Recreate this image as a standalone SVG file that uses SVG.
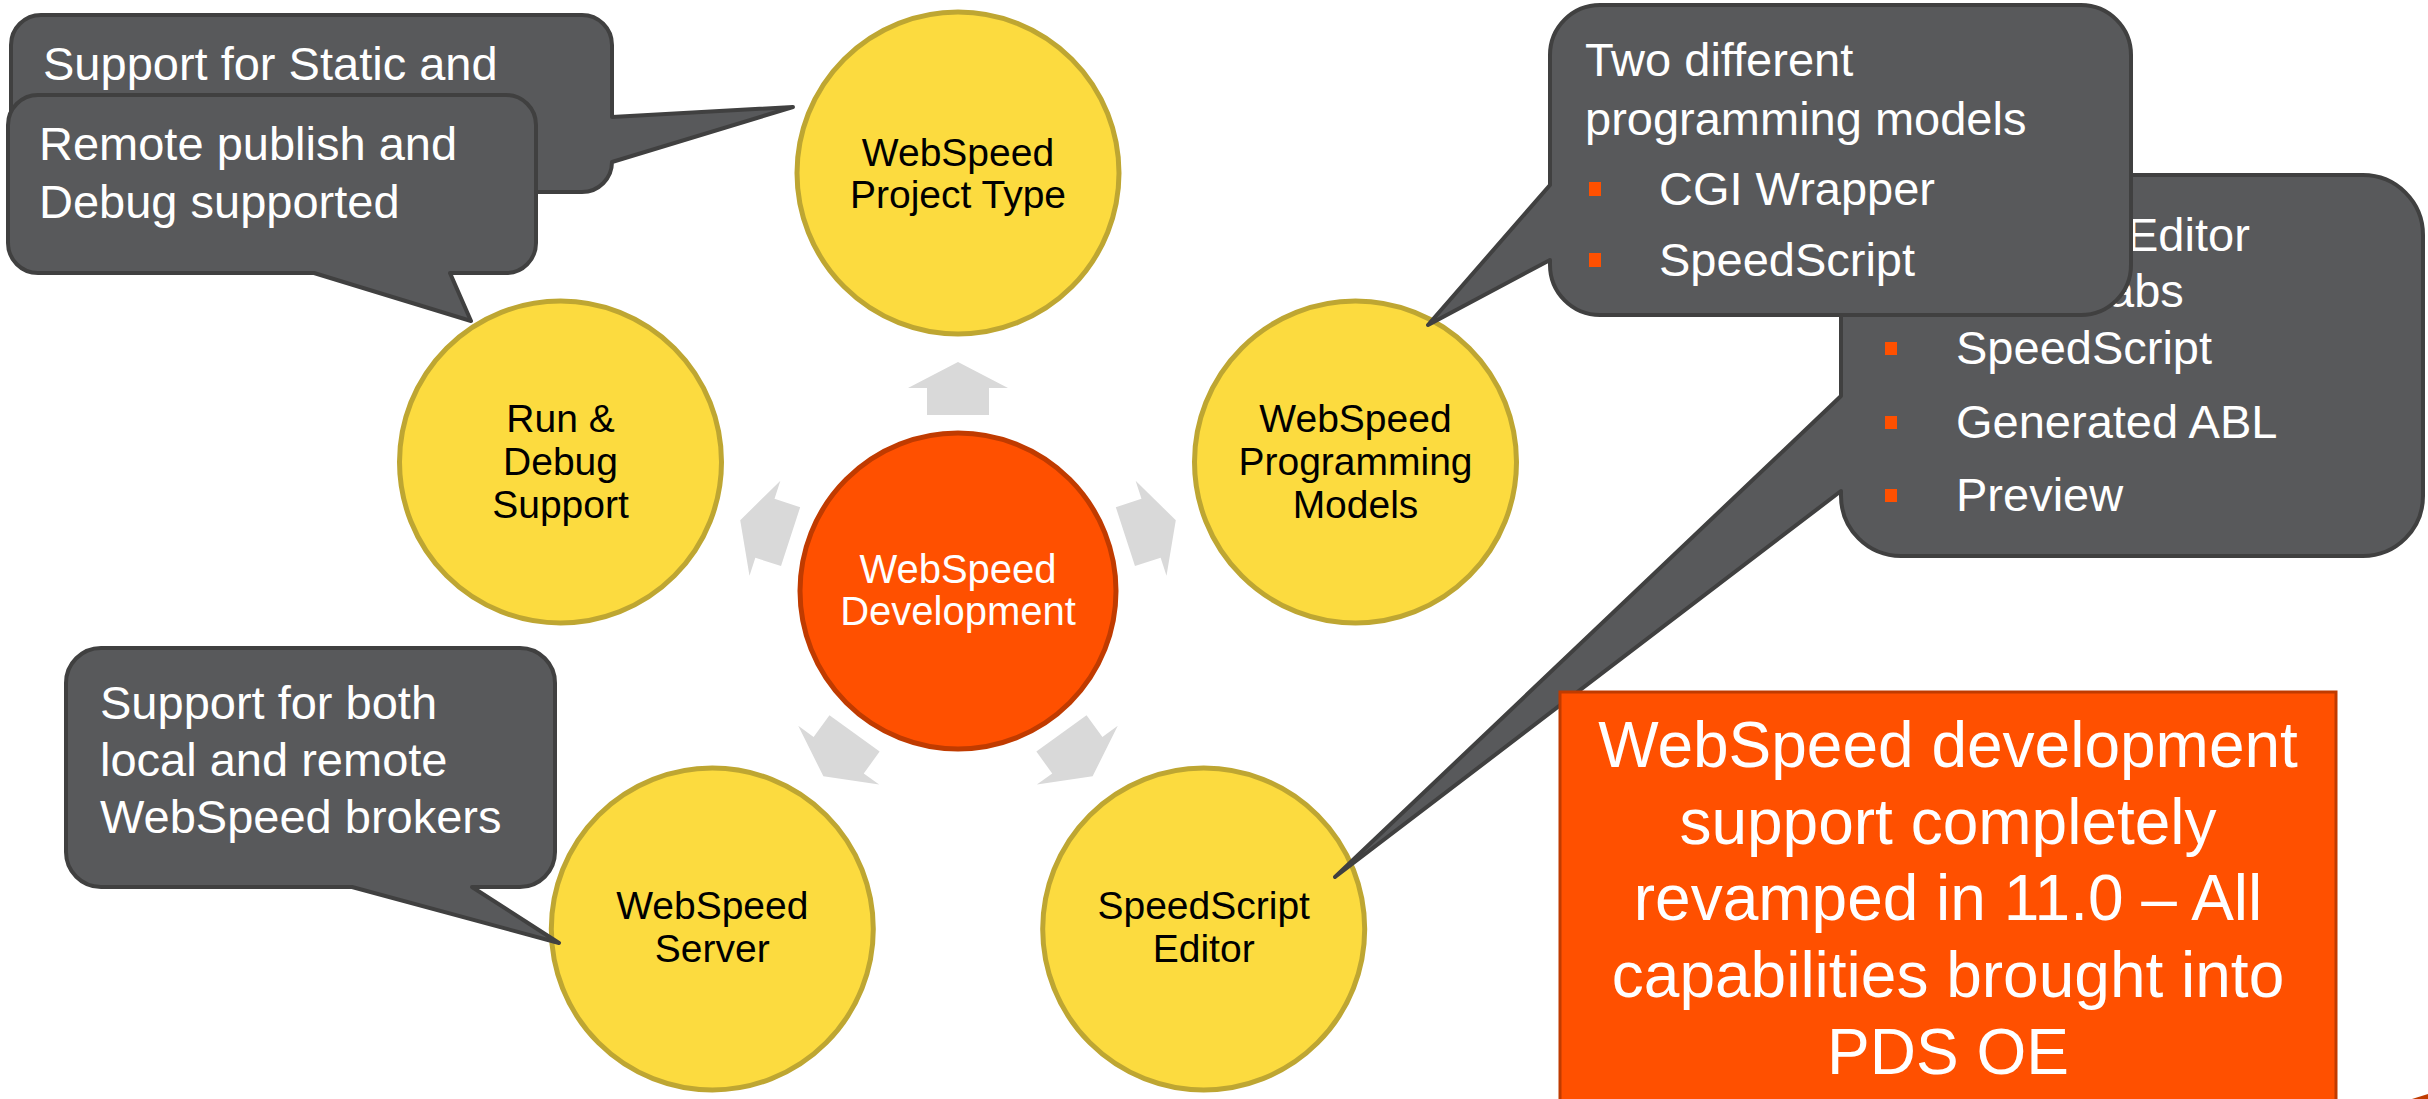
<svg xmlns="http://www.w3.org/2000/svg" width="2428" height="1099" viewBox="0 0 2428 1099">
<style>
.bg{fill:#FFFFFF}
.outer{fill:#FCDB3F;stroke:#BEA632;stroke-width:5}
.hub{fill:#FF5000;stroke:#C03B00;stroke-width:5}
.arrow{fill:#D9D9D9}
.callout{fill:#58595B;stroke:#404040;stroke-width:4;stroke-linejoin:round}
.note{fill:#FF5000;stroke:#C03B00;stroke-width:3}
.ct{font-family:"Liberation Sans",Arial,sans-serif;font-size:39px;fill:#000000;text-anchor:middle}
.ht{font-family:"Liberation Sans",Arial,sans-serif;font-size:40px;fill:#FFFFFF;text-anchor:middle}
.lt{font-family:"Liberation Sans",Arial,sans-serif;font-size:47px;fill:#FFFFFF}
.nt{font-family:"Liberation Sans",Arial,sans-serif;font-size:64px;fill:#FFFFFF;text-anchor:middle}
.bul{fill:#FF5000}
</style>
<defs>
<polygon id="arr" points="-31,-176 31,-176 31,-203 50,-203 0,-229 -50,-203 -31,-203"/>
</defs>
<rect class="bg" x="0" y="0" width="2428" height="1099"/>

<g id="connectors">
<use href="#arr" class="arrow" transform="translate(958 591) rotate(0)"/>
<use href="#arr" class="arrow" transform="translate(958 591) rotate(72)"/>
<use href="#arr" class="arrow" transform="translate(958 591) rotate(144)"/>
<use href="#arr" class="arrow" transform="translate(958 591) rotate(216)"/>
<use href="#arr" class="arrow" transform="translate(958 591) rotate(288)"/>
</g>

<g id="hub">
<circle class="hub" cx="958" cy="591" r="158"/>
<text class="ht" x="958" y="583">WebSpeed</text>
<text class="ht" x="958" y="625">Development</text>
</g>

<g id="node-project-type">
<circle class="outer" cx="958" cy="173" r="161"/>
<text class="ct" x="958" y="166">WebSpeed</text>
<text class="ct" x="958" y="208">Project Type</text>
</g>

<g id="node-programming-models">
<circle class="outer" cx="1355.5" cy="462" r="161"/>
<text class="ct" x="1355.5" y="432">WebSpeed</text>
<text class="ct" x="1355.5" y="475">Programming</text>
<text class="ct" x="1355.5" y="518">Models</text>
</g>

<g id="node-speedscript-editor">
<circle class="outer" cx="1203.7" cy="929" r="161"/>
<text class="ct" x="1203.7" y="919">SpeedScript</text>
<text class="ct" x="1203.7" y="962">Editor</text>
</g>

<g id="node-webspeed-server">
<circle class="outer" cx="712.3" cy="929" r="161"/>
<text class="ct" x="712.3" y="919">WebSpeed</text>
<text class="ct" x="712.3" y="962">Server</text>
</g>

<g id="node-run-debug">
<circle class="outer" cx="560.5" cy="462" r="161"/>
<text class="ct" x="560.5" y="432">Run &amp;</text>
<text class="ct" x="560.5" y="475">Debug</text>
<text class="ct" x="560.5" y="518">Support</text>
</g>

<g id="callout-static">
<path class="callout" d="M41,15 H582 A30,30 0 0 1 612,45 V117 L793,107 L612,162 A30,30 0 0 1 582,192 H41 A30,30 0 0 1 11,162 V45 A30,30 0 0 1 41,15 Z"/>
<text class="lt" x="43" y="80">Support for Static and</text>
</g>

<g id="callout-remote">
<path class="callout" d="M38,95 H506 A30,30 0 0 1 536,125 V243 A30,30 0 0 1 506,273 H450 L471,321 L314,273 H38 A30,30 0 0 1 8,243 V125 A30,30 0 0 1 38,95 Z"/>
<text class="lt" x="39" y="160">Remote publish and</text>
<text class="lt" x="39" y="218">Debug supported</text>
</g>

<g id="callout-server">
<path class="callout" d="M101,648 H520 A35,35 0 0 1 555,683 V852 A35,35 0 0 1 520,887 H472 L559,943 L352,887 H101 A35,35 0 0 1 66,852 V683 A35,35 0 0 1 101,648 Z"/>
<text class="lt" x="100" y="719">Support for both</text>
<text class="lt" x="100" y="776">local and remote</text>
<text class="lt" x="100" y="833">WebSpeed brokers</text>
</g>

<g id="callout-editor">
<path class="callout" d="M1901,175 H2363 A60,60 0 0 1 2423,235 V496 A60,60 0 0 1 2363,556 H1901 A60,60 0 0 1 1841,496 V491 L1335,877 L1841,396 V235 A60,60 0 0 1 1901,175 Z"/>
<text class="lt" x="2127" y="251">Editor</text>
<text class="lt" x="2095" y="307">tabs</text>
<rect class="bul" x="1885" y="342" width="12" height="13"/>
<text class="lt" x="1956" y="364">SpeedScript</text>
<rect class="bul" x="1885" y="416" width="12" height="13"/>
<text class="lt" x="1956" y="438">Generated ABL</text>
<rect class="bul" x="1885" y="489" width="12" height="13"/>
<text class="lt" x="1956" y="511">Preview</text>
</g>

<g id="callout-models">
<path class="callout" d="M1600,5 H2081 A50,50 0 0 1 2131,55 V265 A50,50 0 0 1 2081,315 H1600 A50,50 0 0 1 1550,265 V260 L1428,325 L1550,185 V55 A50,50 0 0 1 1600,5 Z"/>
<text class="lt" x="1585" y="76">Two different</text>
<text class="lt" x="1585" y="135">programming models</text>
<rect class="bul" x="1589" y="182" width="12" height="14"/>
<text class="lt" x="1659" y="205">CGI Wrapper</text>
<rect class="bul" x="1589" y="253" width="12" height="14"/>
<text class="lt" x="1659" y="276">SpeedScript</text>
</g>

<g id="note-summary">
<rect class="note" x="1560" y="692" width="776" height="420"/>
<text class="nt" x="1948" y="767">WebSpeed development</text>
<text class="nt" x="1948" y="844">support completely</text>
<text class="nt" x="1948" y="920">revamped in 11.0 – All</text>
<text class="nt" x="1948" y="997">capabilities brought into</text>
<text class="nt" x="1948" y="1074">PDS OE</text>
</g>

<path d="M2412,1099 L2428,1094 L2428,1099 Z" fill="#C03B00"/>
</svg>
